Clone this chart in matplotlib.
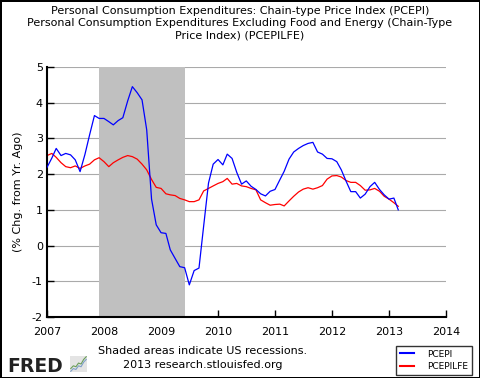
import matplotlib
matplotlib.use('Agg')
import matplotlib.pyplot as plt
import matplotlib.dates as mdates
import pandas as pd
from matplotlib import rcParams

rcParams['font.family'] = 'DejaVu Sans'
rcParams['axes.unicode_minus'] = False

# Monthly y/y % change, Jan 2007 - Mar 2013
months = pd.date_range('2007-01-01', periods=75, freq='MS')
pcepi = [2.19, 2.45, 2.72, 2.52, 2.58, 2.54, 2.40, 2.07, 2.55, 3.10, 3.64, 3.56,
         3.56, 3.47, 3.38, 3.50, 3.58, 4.05, 4.45, 4.28, 4.08, 3.24, 1.30, 0.58,
         0.36, 0.34, -0.12, -0.36, -0.59, -0.62, -1.10, -0.70, -0.63, 0.55, 1.75, 2.28,
         2.41, 2.26, 2.56, 2.44, 2.05, 1.72, 1.81, 1.66, 1.57, 1.45, 1.39, 1.52,
         1.57, 1.84, 2.08, 2.42, 2.62, 2.72, 2.80, 2.86, 2.89, 2.62, 2.56, 2.44,
         2.43, 2.35, 2.12, 1.80, 1.51, 1.51, 1.33, 1.44, 1.65, 1.77, 1.57, 1.42,
         1.30, 1.33, 1.00]
pcepilfe = [2.52, 2.58, 2.47, 2.32, 2.21, 2.18, 2.23, 2.16, 2.23, 2.28, 2.40, 2.46,
            2.35, 2.21, 2.32, 2.40, 2.47, 2.52, 2.49, 2.42, 2.28, 2.12, 1.85, 1.63,
            1.60, 1.45, 1.42, 1.40, 1.32, 1.28, 1.23, 1.23, 1.28, 1.53, 1.60, 1.67,
            1.74, 1.79, 1.88, 1.72, 1.74, 1.67, 1.65, 1.60, 1.56, 1.28, 1.20, 1.13,
            1.15, 1.16, 1.11, 1.25, 1.38, 1.50, 1.58, 1.62, 1.58, 1.62, 1.68, 1.86,
            1.95, 1.96, 1.92, 1.82, 1.77, 1.77, 1.68, 1.55, 1.56, 1.60, 1.52, 1.38,
            1.30, 1.20, 1.10]
recession = (pd.Timestamp('2007-12-01'), pd.Timestamp('2009-06-01'))
year_ticks = [pd.Timestamp(f'{y}-01-01') for y in range(2007, 2015)]
y_ticks = list(range(-2, 6))

W, H = 480, 378
fig = plt.figure(figsize=(W / 100, H / 100), dpi=100)
fig.patch.set_facecolor('white')
fig.patch.set_edgecolor('black')
fig.patch.set_linewidth(2)

ax = fig.add_axes([47 / W, 1 - 317 / H, (446 - 47) / W, (317 - 67) / H])
ax.axvspan(recession[0], recession[1], color='#c0c0c0', lw=0, zorder=1)
ax.plot(months, pcepi, color='#0000ff', lw=0.9, label='PCEPI', zorder=3)
ax.plot(months, pcepilfe, color='#ff0000', lw=0.9, label='PCEPILFE', zorder=2)

ax.set_xlim(year_ticks[0], year_ticks[-1])
ax.set_ylim(-2, 5)
ax.set_xticks(year_ticks)
ax.xaxis.set_major_formatter(mdates.DateFormatter('%Y'))
ax.set_yticks(y_ticks)
ax.grid(True, axis='y', color='#aaaaaa', lw=0.8)
ax.set_axisbelow(True)
for s in ['top', 'right']:
    ax.spines[s].set_visible(False)
for s in ['left', 'bottom']:
    ax.spines[s].set_linewidth(1.5)
ax.tick_params(direction='in', length=5, width=1, labelsize=8)
ax.tick_params(axis='y', pad=3)
ax.tick_params(axis='x', pad=7)
ax.set_ylabel('(% Chg. from Yr. Ago)', fontsize=8, labelpad=6)

fig.text(0.5, 1 - 6 / H,
         'Personal Consumption Expenditures: Chain-type Price Index (PCEPI)\n'
         'Personal Consumption Expenditures Excluding Food and Energy (Chain-Type\n'
         'Price Index) (PCEPILFE)',
         ha='center', va='top', fontsize=8, linespacing=1.25)

fig.text(203 / W, 1 - 351 / H, 'Shaded areas indicate US recessions.',
         ha='center', va='center', fontsize=8)
fig.text(203 / W, 1 - 365 / H, '2013 research.stlouisfed.org',
         ha='center', va='center', fontsize=8)

# FRED logo
fig.text(7 / W, 1 - 372 / H, 'FRED', ha='left', va='baseline',
         fontsize=13.5, fontweight='bold', color='#222222')
icon_trend = [0.2, 0.35, 0.3, 0.5, 0.45, 0.7, 0.85]
icon = fig.add_axes([70 / W, 1 - 372 / H, 17 / W, 16 / H])
icon.set_facecolor('#e4e4e4')
icon.plot(range(len(icon_trend)), icon_trend, color='#6a9e5a', lw=0.8)
icon.plot(range(len(icon_trend)), [v - 0.15 for v in icon_trend], color='#7fa0c8', lw=0.8)
icon.set_xticks([])
icon.set_yticks([])
for s in icon.spines.values():
    s.set_visible(False)

leg = fig.legend(loc='upper left', bbox_to_anchor=(396 / W, 1 - 346 / H),
                 fontsize=6.5, frameon=True, fancybox=False, edgecolor='black',
                 handlelength=1.6, borderpad=0.4, labelspacing=0.4,
                 handletextpad=1.5, borderaxespad=0)
leg.get_frame().set_linewidth(1)
for line in leg.get_lines():
    line.set_linewidth(1.5)

fig.savefig('out.png', dpi=100)
